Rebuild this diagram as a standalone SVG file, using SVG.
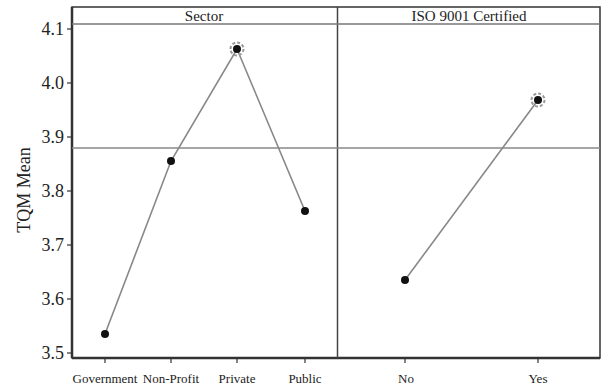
<svg xmlns="http://www.w3.org/2000/svg" width="602" height="387" viewBox="0 0 602 387">
<style>
.t{font-family:"Liberation Serif","Times New Roman",serif;fill:#222}
.yt{font-size:18px;text-anchor:end}
.xt{font-size:13px;text-anchor:middle}
.hd{font-size:15px;text-anchor:middle}
.frame{fill:none;stroke:#333;stroke-width:1.5}
.ref{stroke:#888;stroke-width:1.5}
.ser{fill:none;stroke:#888;stroke-width:1.6}
.pt{fill:#111}
.ring{fill:none;stroke:#999;stroke-width:2;stroke-dasharray:3 2}
.tick{stroke:#333;stroke-width:1.2}
</style>
<rect width="602" height="387" fill="#fff"/>
<g id="frame">
<rect class="frame" x="72" y="7" width="528" height="351"/>
<line x1="72" y1="358" x2="600" y2="358" stroke="#333" stroke-width="2.5"/>
<line x1="72" y1="7" x2="72" y2="358" stroke="#333" stroke-width="2.5"/>
<line x1="337.5" y1="7" x2="337.5" y2="358" stroke="#444" stroke-width="1.5"/>
<line x1="72" y1="24" x2="600" y2="24" stroke="#777" stroke-width="1.5"/>
<line class="ref" x1="72" y1="148" x2="600" y2="148"/>
</g>
<g id="y-axis">
<line class="tick" x1="67" y1="29" x2="72" y2="29"/>
<line class="tick" x1="67" y1="83" x2="72" y2="83"/>
<line class="tick" x1="67" y1="137" x2="72" y2="137"/>
<line class="tick" x1="67" y1="191" x2="72" y2="191"/>
<line class="tick" x1="67" y1="245" x2="72" y2="245"/>
<line class="tick" x1="67" y1="299" x2="72" y2="299"/>
<line class="tick" x1="67" y1="353" x2="72" y2="353"/>
<text class="t yt" x="64" y="35">4.1</text>
<text class="t yt" x="64" y="89">4.0</text>
<text class="t yt" x="64" y="143">3.9</text>
<text class="t yt" x="64" y="197">3.8</text>
<text class="t yt" x="64" y="251">3.7</text>
<text class="t yt" x="64" y="305">3.6</text>
<text class="t yt" x="64" y="359">3.5</text>
<text class="t" x="0" y="0" font-size="18" text-anchor="middle" transform="translate(30 190) rotate(-90)">TQM Mean</text>
</g>
<g id="x-axis">
<line class="tick" x1="105" y1="358" x2="105" y2="363"/>
<line class="tick" x1="171" y1="358" x2="171" y2="363"/>
<line class="tick" x1="237" y1="358" x2="237" y2="363"/>
<line class="tick" x1="305" y1="358" x2="305" y2="363"/>
<line class="tick" x1="405" y1="358" x2="405" y2="363"/>
<line class="tick" x1="538" y1="358" x2="538" y2="363"/>
<text class="t xt" x="105" y="383">Government</text>
<text class="t xt" x="171" y="383">Non-Profit</text>
<text class="t xt" x="237" y="383">Private</text>
<text class="t xt" x="305" y="383">Public</text>
<text class="t xt" x="406" y="383">No</text>
<text class="t xt" x="538" y="383">Yes</text>
</g>
<g id="headers">
<text class="t hd" x="204" y="21">Sector</text>
<text class="t hd" x="469" y="21">ISO 9001 Certified</text>
</g>
<g id="connectors">
<polyline class="ser" points="105,334 171,161 237,49 305,211"/>
<line class="ser" x1="405" y1="280" x2="538" y2="100"/>
</g>
<g id="node-government"><circle class="pt" cx="105" cy="334" r="4"/></g>
<g id="node-nonprofit"><circle class="pt" cx="171" cy="161" r="4"/></g>
<g id="node-private"><circle class="ring" cx="237" cy="49" r="6.5"/><circle class="pt" cx="237" cy="49" r="4"/></g>
<g id="node-public"><circle class="pt" cx="305" cy="211" r="4"/></g>
<g id="node-no"><circle class="pt" cx="405" cy="280" r="4"/></g>
<g id="node-yes"><circle class="ring" cx="538" cy="100" r="6.5"/><circle class="pt" cx="538" cy="100" r="4"/></g>
</svg>
